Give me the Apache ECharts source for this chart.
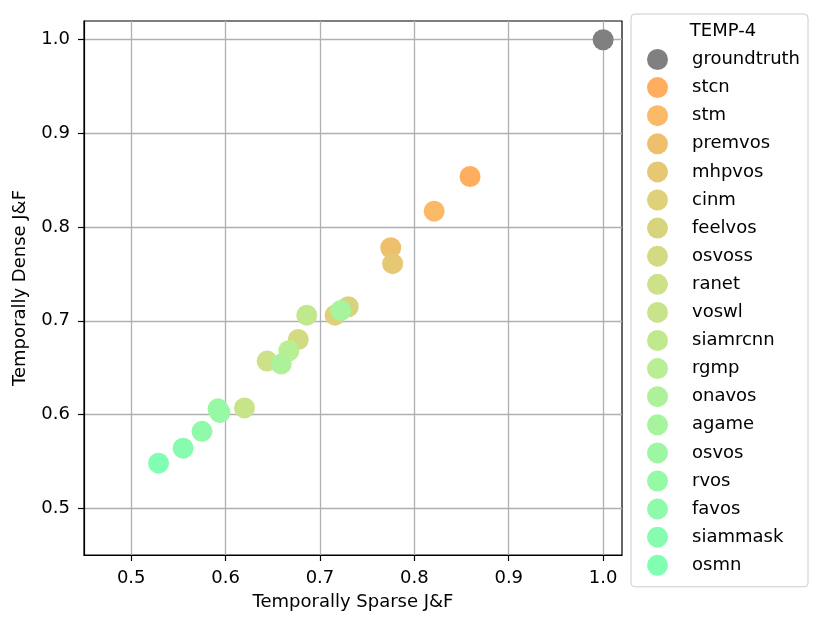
<!DOCTYPE html>
<html>
<head>
<meta charset="utf-8">
<script src="https://cdn.jsdelivr.net/npm/echarts@6/dist/echarts.min.js"></script>
<style>html,body{margin:0;padding:0;background:#fff;}#chart{width:830px;height:628px;}</style>
</head>
<body>
<div id="chart"></div>
<script>
const methods = ["groundtruth","stcn","stm","premvos","mhpvos","cinm","feelvos","osvoss","ranet","voswl","siamrcnn","rgmp","onavos","agame","osvos","rvos","favos","siammask","osmn"];
const sparseJF = [1.000,0.859,0.821,0.775,0.777,0.716,0.730,0.677,0.644,0.620,0.686,0.667,0.659,0.722,0.592,0.594,0.575,0.555,0.529];
const denseJF  = [1.000,0.854,0.817,0.778,0.761,0.706,0.715,0.680,0.657,0.607,0.706,0.668,0.654,0.711,0.606,0.602,0.582,0.564,0.548];
const colors = ["#808080","#FEAE5E","#F9B966","#EFC06C","#E6C774","#E0D07A","#D8D47E","#D2DB82","#CCE188","#C8E48A","#C0E98E","#B8EE94","#ADF29A","#A6F49E","#9DF7A2","#95F9A6","#8EFAAA","#87FCAE","#80FEB2"];
const tickValues = [0.5,0.6,0.7,0.8,0.9,1.0];
const legendTitle = "TEMP-4";
const xName = "Temporally Sparse J&F";
const yName = "Temporally Dense J&F";

const FONT = "DejaVu Sans";
const chart = echarts.init(document.getElementById('chart'));

function axis(name, gap, margin) {
  return {
    type: 'value', min: 0.45, max: 1.02,
    name: name, nameLocation: 'middle', nameGap: gap,
    nameTextStyle: {fontFamily: FONT, fontSize: 18, color: '#000'},
    axisLine: {show: true, lineStyle: {color: '#000', width: 1.2}},
    axisTick: {show: true, length: 6, customValues: tickValues, lineStyle: {color: '#000', width: 1.2}},
    axisLabel: {customValues: tickValues, margin: margin, fontFamily: FONT, fontSize: 18, color: '#000',
      formatter: v => Number(v).toFixed(1)},
    splitLine: {show: true, lineStyle: {color: '#b0b0b0', width: 1.3}}
  };
}

const series = methods.map((m, i) => ({
  name: m, type: 'scatter', symbol: 'circle', symbolSize: 21,
  itemStyle: {color: colors[i], opacity: 1},
  emphasis: {disabled: true},
  data: [[sparseJF[i], denseJF[i]]]
}));

chart.setOption({
  animation: false,
  textStyle: {fontFamily: FONT},
  grid: {left: 84, right: 208, top: 21, bottom: 73, show: true, borderColor: '#000', borderWidth: 1.2, containLabel: false},
  xAxis: axis(xName, 38, 14),
  yAxis: axis(yName, 55, 14),
  legend: {
    orient: 'vertical', left: 631, top: 14,
    padding: [35, 8, 11, 16],
    itemWidth: 21, itemHeight: 21, itemGap: 7.1,
    icon: 'circle',
    borderColor: '#cccccc', borderWidth: 1, borderRadius: 4,
    textStyle: {fontFamily: FONT, fontSize: 18, color: '#000', padding: [0, 0, 0, 19]},
    data: methods
  },
  graphic: [{
    type: 'text', x: 723, y: 31,
    style: {text: legendTitle, fontFamily: FONT, fontSize: 18, fill: '#000', align: 'center', verticalAlign: 'middle'}
  }],
  series: series
});
</script>
</body>
</html>
